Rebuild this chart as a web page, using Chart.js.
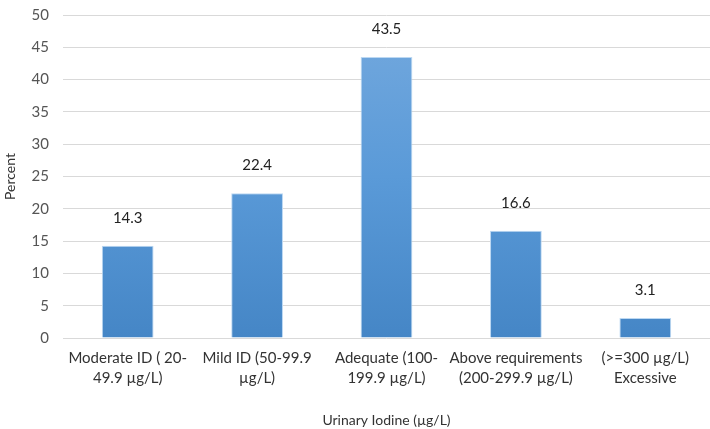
<!DOCTYPE html>
<html>
<head>
<meta charset="utf-8">
<script src="https://cdn.jsdelivr.net/npm/chart.js@4/dist/chart.umd.min.js"></script>
<style>
  html, body { margin: 0; padding: 0; background: #fff; }
  #wrap { width: 710px; height: 429px; }
</style>
</head>
<body>
<div id="wrap"><canvas id="chart"></canvas></div>
<script>
const categories = [
  ['Moderate ID ( 20-', '49.9 µg/L)'],
  ['Mild ID (50-99.9', 'µg/L)'],
  ['Adequate (100-', '199.9 µg/L)'],
  ['Above requirements', '(200-299.9 µg/L)'],
  ['(>=300 µg/L)', 'Excessive']
];
const percents = [14.3, 22.4, 43.5, 16.6, 3.1];
const yTicks = { min: 0, max: 50, step: 5 };

const FONT = 'Lato, "Open Sans", sans-serif';

// value labels above each bar
const valueLabels = {
  id: 'valueLabels',
  afterDatasetsDraw(chart) {
    const ctx = chart.ctx;
    const meta = chart.getDatasetMeta(0);
    ctx.save();
    ctx.font = '15px ' + FONT;
    ctx.fillStyle = '#222';
    ctx.textAlign = 'center';
    ctx.textBaseline = 'middle';
    meta.data.forEach((bar, i) => {
      ctx.fillText(percents[i].toFixed(1), bar.x, bar.y - 28);
    });
    ctx.restore();
  }
};

function barFill(context) {
  const area = context.chart.chartArea;
  if (!area) return '#5b9bd5';
  const g = context.chart.ctx.createLinearGradient(0, area.top, 0, area.bottom);
  g.addColorStop(0, '#74a9de');
  g.addColorStop(0.5, '#5a9ad8');
  g.addColorStop(1, '#4586c6');
  return g;
}

new Chart(document.getElementById('chart'), {
  type: 'bar',
  data: {
    labels: categories,
    datasets: [{
      data: percents,
      backgroundColor: barFill,
      borderColor: '#bcd8f2',
      borderWidth: 1,
      categoryPercentage: 1,
      barPercentage: 0.40
    }]
  },
  options: {
    responsive: true,
    maintainAspectRatio: false,
    animation: false,
    layout: { padding: { top: 0, right: 0, left: 0, bottom: 0 } },
    plugins: {
      legend: { display: false },
      tooltip: { enabled: false }
    },
    scales: {
      y: {
        min: yTicks.min,
        max: yTicks.max,
        ticks: { stepSize: yTicks.step, color: '#555', font: { family: FONT, size: 15 }, padding: 14 },
        grid: { color: '#d9d9d9', drawTicks: false },
        border: { display: false },
        title: { display: true, text: 'Percent', color: '#333', font: { family: FONT, size: 14 }, padding: 2 },
        afterFit(scale) {
          scale.width = 63;
          scale.paddingTop = 15;
          scale.paddingBottom = 0;
        }
      },
      x: {
        ticks: { color: '#333', font: { family: FONT, size: 15, lineHeight: 1.27 }, maxRotation: 0, autoSkip: false, padding: 11 },
        grid: { display: false, drawTicks: false },
        border: { display: false },
        title: { display: true, text: 'Urinary Iodine (µg/L)', color: '#333', font: { family: FONT, size: 14 }, padding: { top: 14, bottom: 0 } },
        afterFit(scale) {
          scale.paddingLeft = 0;
          scale.paddingRight = 0;
        }
      }
    }
  },
  plugins: [valueLabels]
});
</script>
</body>
</html>
